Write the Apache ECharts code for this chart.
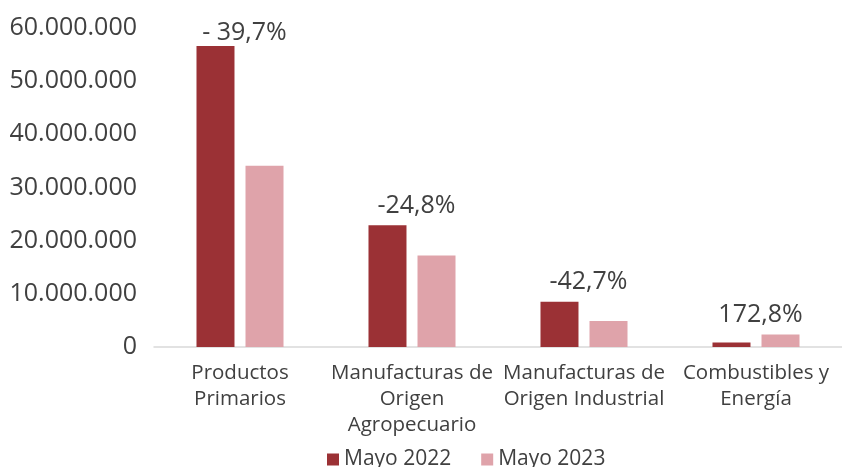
<!DOCTYPE html>
<html>
<head>
<meta charset="utf-8">
<script src="https://cdn.jsdelivr.net/npm/echarts@6/dist/echarts.min.js"></script>
<style>html,body{margin:0;padding:0;background:#fff}#c{width:842px;height:467px}</style>
</head>
<body>
<div id="c"></div>
<script>
var categories = ["Productos\nPrimarios", "Manufacturas de\nOrigen\nAgropecuario", "Manufacturas de\nOrigen Industrial", "Combustibles y\nEnergía"];
var mayo2022 = [56600000, 22900000, 8500000, 850000];
var mayo2023 = [34100000, 17200000, 4900000, 2350000];
var changes = ["- 39,7%", "-24,8%", "-42,7%", "172,8%"];
var yTicks = [0, 10000000, 20000000, 30000000, 40000000, 50000000, 60000000];

var FONT = '"Open Sans", "Noto Sans", sans-serif';
var TXT = '#404040';

function fmt(v){ return String(v).replace(/\B(?=(\d{3})+(?!\d))/g, '.'); }

function labelItems(own, other, offX){
  return own.map(function(v, i){
    var show = own === mayo2022 ? v >= other[i] : v > other[i];
    var item = { value: v };
    if (show) {
      item.label = {
        show: true, position: 'top', distance: 7,
        offset: [offX, i === 0 ? 6 : 0],
        formatter: changes[i],
        fontSize: 25, fontFamily: FONT, color: TXT
      };
    }
    return item;
  });
}

var chart = echarts.init(document.getElementById('c'));
chart.setOption({
  animation: false,
  grid: { left: 154, right: 0, top: 28, bottom: 120, containLabel: false },
  legend: {
    left: 322, top: 444, itemWidth: 12, itemHeight: 12, itemGap: 30,
    icon: 'rect',
    textStyle: { fontSize: 21, fontFamily: FONT, color: TXT },
    data: ['Mayo 2022', 'Mayo 2023']
  },
  xAxis: {
    type: 'category', data: categories,
    axisLine: { lineStyle: { color: '#d9d9d9', width: 1.5 } },
    axisTick: { show: false },
    axisLabel: { interval: 0, margin: 13, fontSize: 20.5, lineHeight: 26, fontFamily: FONT, color: TXT }
  },
  yAxis: {
    type: 'value', min: yTicks[0], max: yTicks[yTicks.length - 1], interval: yTicks[1] - yTicks[0],
    splitLine: { show: false }, axisLine: { show: false }, axisTick: { show: false },
    axisLabel: { margin: 17, fontSize: 25, fontFamily: FONT, color: TXT, formatter: fmt }
  },
  series: [
    { name: 'Mayo 2022', type: 'bar', barWidth: 38, barGap: '29%',
      itemStyle: { color: '#9B3135' }, data: labelItems(mayo2022, mayo2023, 29) },
    { name: 'Mayo 2023', type: 'bar', barWidth: 38,
      itemStyle: { color: '#DFA3AA' }, data: labelItems(mayo2023, mayo2022, -20) }
  ]
});
</script>
</body>
</html>
